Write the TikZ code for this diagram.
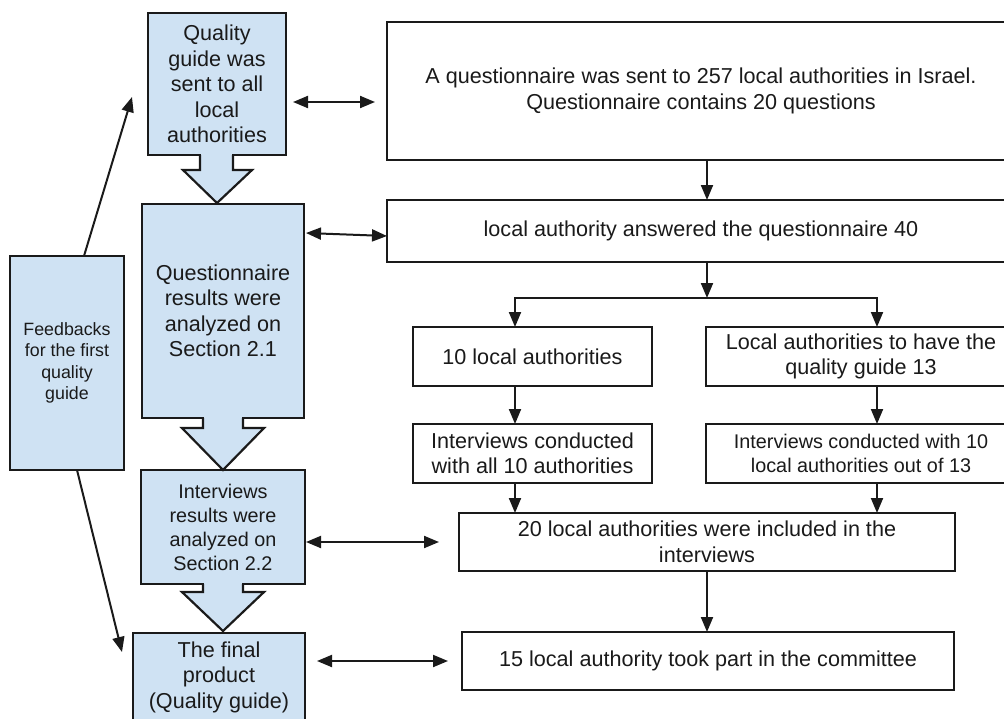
\documentclass[tikz,border=0pt]{standalone}
\usepackage{fontspec}
\setmainfont{Liberation Sans}
\usetikzlibrary{arrows.meta,calc}
\definecolor{bluefill}{HTML}{CFE2F3}
\definecolor{ink}{HTML}{1A1A1A}
\begin{document}
\begin{tikzpicture}[x=1pt,y=-1pt,
  every node/.style={font=\fontsize{21.6}{25.5}\selectfont, text=ink, align=center, inner sep=0pt, outer sep=0pt},
  wbox/.style={draw=ink, line width=2.2pt, fill=white},
  bbox/.style={draw=ink, line width=2.2pt, fill=bluefill},
  smalltext/.style={font=\fontsize{19.8}{24}\selectfont},
  tinytext/.style={font=\fontsize{17.8}{21.5}\selectfont},
  arr/.style={draw=ink, line width=2pt, -{Triangle[length=15pt,width=12pt]}},
  dbl/.style={draw=ink, line width=2pt, {Triangle[length=15pt,width=12pt]}-{Triangle[length=15pt,width=12pt]}},
  blk/.style={draw=ink, line width=2.2pt, fill=bluefill, line join=miter},
  cover/.style={fill=bluefill}
]
\useasboundingbox (0,0) rectangle (1004,718);
\clip (0,0) rectangle (1004,718);

% left column (blue)
\node[bbox, minimum width=138pt, minimum height=142pt] (q1) at (217,84)
  {Quality\\guide was\\sent to all\\local\\authorities};
\node[bbox, minimum width=162pt, minimum height=214pt] (q2) at (223,311)
  {Questionnaire\\results were\\analyzed on\\Section 2.1};
\node[bbox, smalltext, minimum width=164pt, minimum height=114pt] (q3) at (223,527)
  {Interviews\\results were\\analyzed on\\Section 2.2};
\node[bbox, minimum width=172pt, minimum height=88pt] (q4) at (219,677)
  {The final\\product\\(Quality guide)};
\node[bbox, tinytext, minimum width=114pt, minimum height=214pt] (fb) at (67,363)
  {Feedbacks\\for the first\\quality\\guide};

% block arrows below the blue boxes
\fill[cover] (201.2,151) rectangle (231.8,159);
\filldraw[blk] (200,155) -- (200,170) -- (183,170) -- (217,203) -- (252,170) -- (233,170) -- (233,155);
\fill[cover] (204.2,414) rectangle (241.8,422);
\filldraw[blk] (203,418) -- (203,428) -- (182,428) -- (223,470) -- (264,428) -- (243,428) -- (243,418);
\fill[cover] (204.2,580) rectangle (241.8,588);
\filldraw[blk] (203,584) -- (203,592) -- (182,592) -- (223,631) -- (264,592) -- (243,592) -- (243,584);

% right column (white)
\node[wbox, minimum width=628pt, minimum height=138pt] (A) at (701,91)
  {A questionnaire was sent to 257 local authorities in Israel.\\Questionnaire contains 20 questions};
\node[wbox, minimum width=628pt, minimum height=62pt] (B) at (701,231)
  {local authority answered the questionnaire 40};
\node[wbox, minimum width=239pt, minimum height=59pt] (C) at (532.5,356.5)
  {10 local authorities};
\node[wbox, minimum width=310pt, minimum height=59pt] (D) at (861,356.5)
  {Local authorities to have the\\quality guide 13};
\node[wbox, minimum width=239pt, minimum height=59pt] (E) at (532.5,453.5)
  {Interviews conducted\\with all 10 authorities};
\node[wbox, smalltext, minimum width=310pt, minimum height=59pt] (F) at (861,453.5)
  {Interviews conducted with 10\\local authorities out of 13};
\node[wbox, minimum width=496pt, minimum height=58pt] (G) at (707,542)
  {20 local authorities were included in the\\interviews};
\node[wbox, minimum width=492pt, minimum height=58pt] (H) at (708,661)
  {15 local authority took part in the committee};

% connectors on the right
\coordinate (j) at (707,298);
\draw[arr] ([xshift=6pt]A.south) -- ([xshift=6pt]B.north);
\draw[arr] ([xshift=6pt]B.south) -- (j);
\draw[arr] (j) -| ([xshift=-17.5pt]C.north);
\draw[arr] (j) -| ([xshift=16pt]D.north);
\draw[arr] ([xshift=-17.5pt]C.south) -- ([xshift=-17.5pt]E.north);
\draw[arr] ([xshift=16pt]D.south) -- ([xshift=16pt]F.north);
\coordinate (e1) at ([xshift=-17.5pt]E.south);
\coordinate (f1) at ([xshift=16pt]F.south);
\draw[arr] (e1) -- (e1 |- G.north);
\draw[arr] (f1) -- (f1 |- G.north);
\draw[arr] (G.south) -- (G.south |- H.north);

% double arrows between columns
\draw[dbl] ($(q1.east)+(7,18)$) -- ($(A.west)+(-12,11)$);
\draw[dbl] ($(q2.east)+(2,-78)$) -- ($(B.west)+(0,5)$);
\draw[dbl] ($(q3.east)+(1,15)$) -- ($(G.west)+(-20,0)$);
\draw[dbl] ($(q4.east)+(12,-16)$) -- ($(H.west)+(-14,0)$);

% feedback arrows
\draw[arr] ($(fb.north)+(17,0)$) -- ($(q1.west)+(-16,13)$);
\draw[arr] ($(fb.south)+(10,0)$) -- ($(q4.west)+(-11,-25)$);
\end{tikzpicture}
\end{document}
